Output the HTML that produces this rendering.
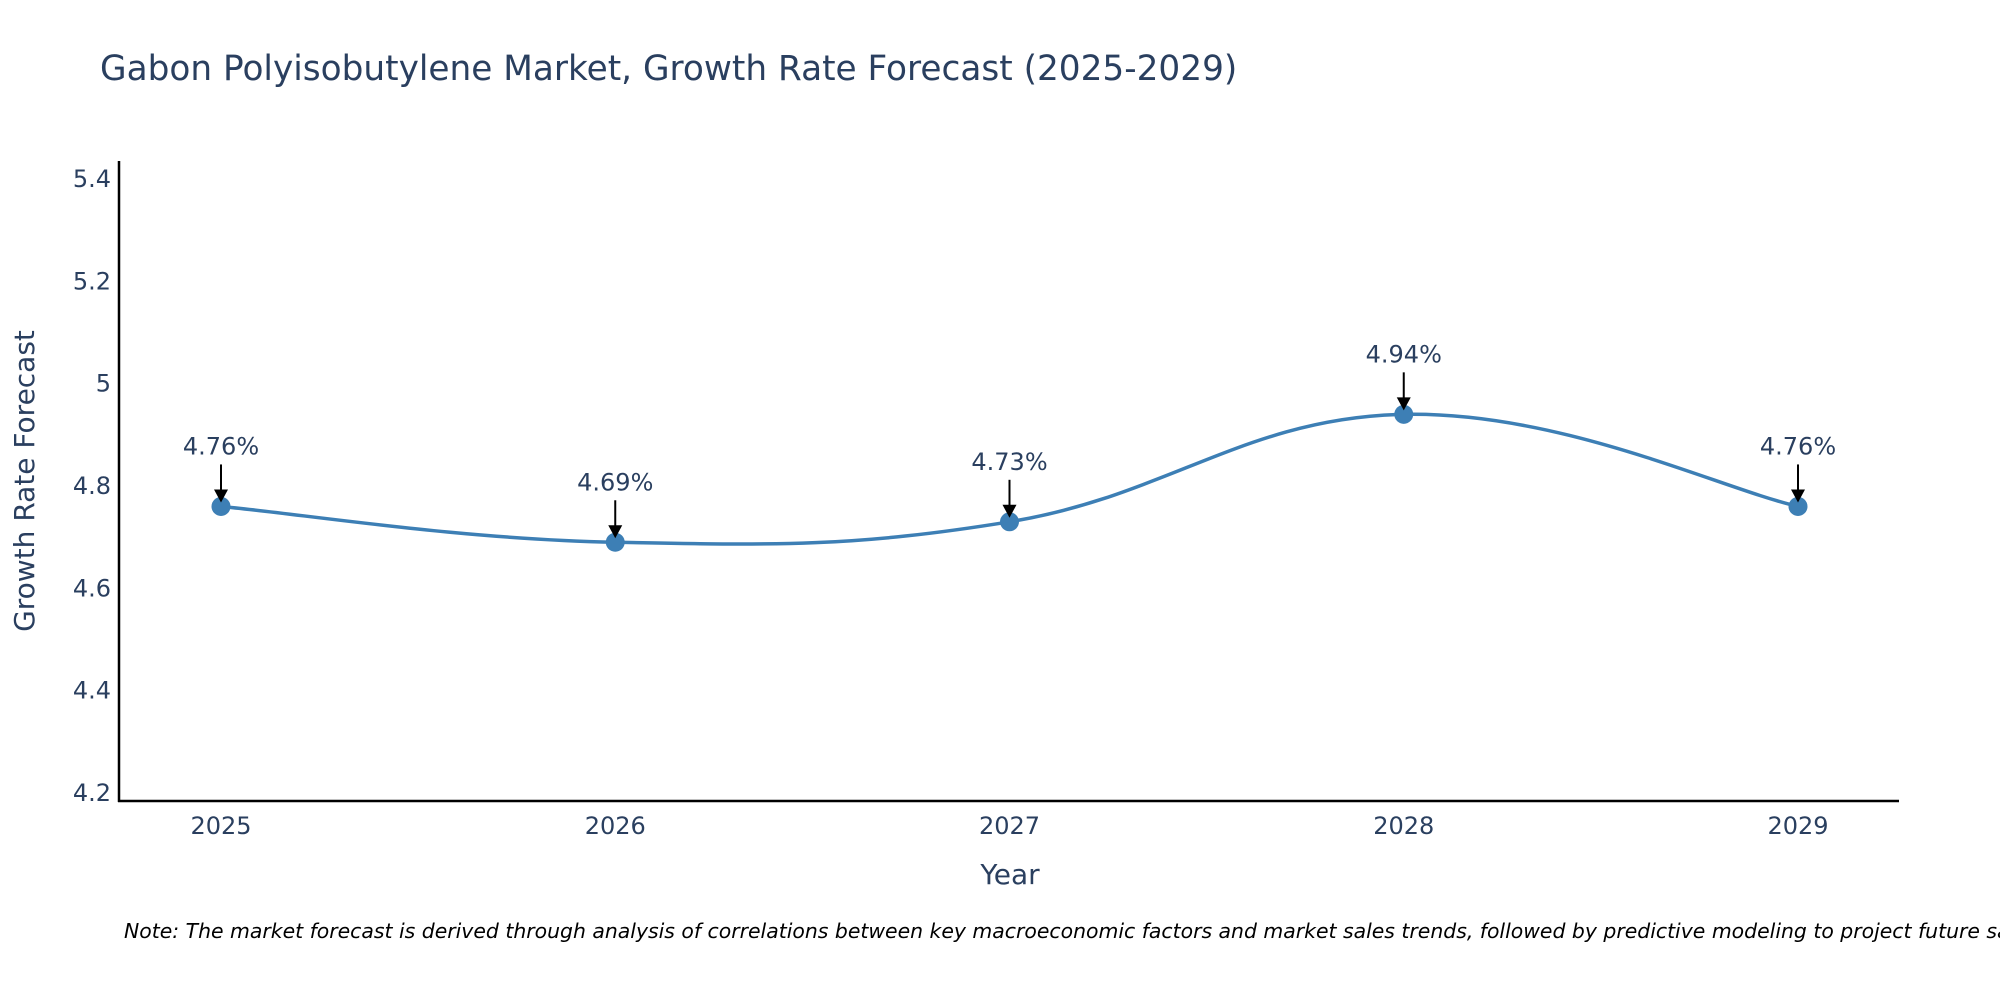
<!DOCTYPE html>
<html><head><meta charset="utf-8">
<style>
body{margin:0;background:#fff;}
svg{display:block;font-family:"DejaVu Sans","Liberation Sans",sans-serif;}
</style></head>
<body>
<svg id="chart" width="2000" height="1000" xmlns="http://www.w3.org/2000/svg">
<text x="100" y="80" font-size="34.3" fill="#2a3f5f">Gabon Polyisobutylene Market, Growth Rate Forecast (2025-2029)</text>
<g id="yticks"></g>
<g id="xticks"></g>
<line x1="119" y1="161" x2="119" y2="802" stroke="#000" stroke-width="2.5"/>
<line x1="118" y1="801" x2="1899" y2="801" stroke="#000" stroke-width="2.5"/>
<path id="line" fill="none" stroke="#3d7fb5" stroke-width="3.5"/>
<g id="points"></g>
<g id="annots"></g>
<text x="0" y="0" transform="translate(34,481) rotate(-90)" text-anchor="middle" font-size="28" fill="#2a3f5f">Growth Rate Forecast</text>
<text x="1010" y="884" text-anchor="middle" font-size="28" fill="#2a3f5f">Year</text>
<text x="124" y="938" font-size="20.4" font-style="italic" fill="#000">Note: The market forecast is derived through analysis of correlations between key macroeconomic factors and market sales trends, followed by predictive modeling to project future sales.</text>
</svg>
<script>
const years=[2025,2026,2027,2028,2029];
const values=[4.76,4.69,4.73,4.94,4.76];
const labels=["4.76%","4.69%","4.73%","4.94%","4.76%"];
const yTicks=[4.2,4.4,4.6,4.8,5,5.2,5.4];
const yTickLabels=["4.2","4.4","4.6","4.8","5","5.2","5.4"];
const NS="http://www.w3.org/2000/svg";
const X0=221,X1=1798,yMin=4.2,yPix0=793,pxPer=511.7/1.0;
function xs(i){return X0+(X1-X0)*(years[i]-years[0])/(years[years.length-1]-years[0]);}
function ys(v){return yPix0-(v-yMin)*pxPer;}
function mk(tag,attrs,parent){const e=document.createElementNS(NS,tag);for(const k in attrs)e.setAttribute(k,attrs[k]);parent.appendChild(e);return e;}
const yt=document.getElementById('yticks');
yTicks.forEach((t,i)=>{const e=mk('text',{x:111,y:ys(t)+8,'text-anchor':'end','font-size':24,fill:'#2a3f5f'},yt);


e.textContent=yTickLabels[i];});
const xt=document.getElementById('xticks');
years.forEach((y,i)=>{const e=mk('text',{x:xs(i),y:834,'text-anchor':'middle','font-size':24,fill:'#2a3f5f'},xt);


e.textContent=y;});
const P=years.map((y,i)=>[xs(i),ys(values[i])]);
let d="M"+P[0][0]+","+P[0][1];const s=0.2;
for(let i=0;i<P.length-1;i++){const p0=P[Math.max(0,i-1)],p1=P[i],p2=P[i+1],p3=P[Math.min(P.length-1,i+2)];
const c1=[p1[0]+(p2[0]-p0[0])*s,p1[1]+(p2[1]-p0[1])*s],c2=[p2[0]-(p3[0]-p1[0])*s,p2[1]-(p3[1]-p1[1])*s];
d+=" C"+c1+" "+c2+" "+p2;}
document.getElementById('line').setAttribute('d',d);
const pts=document.getElementById('points'),an=document.getElementById('annots');
P.forEach((p,i)=>{const c=mk('circle',{cx:p[0],cy:p[1],r:9.5,fill:'#3d7fb5'},pts);


const l=mk('line',{x1:p[0],y1:p[1]-42,x2:p[0],y2:p[1]-14,stroke:'#000','stroke-width':2},an);


const h=mk('polygon',{points:`${p[0]-7},${p[1]-17} ${p[0]+7},${p[1]-17} ${p[0]},${p[1]-4}`,fill:'#000'},an);


const t=mk('text',{x:p[0],y:p[1]-52,'text-anchor':'middle','font-size':24,fill:'#2a3f5f'},an);


t.textContent=labels[i];});
</script>
</body></html>
